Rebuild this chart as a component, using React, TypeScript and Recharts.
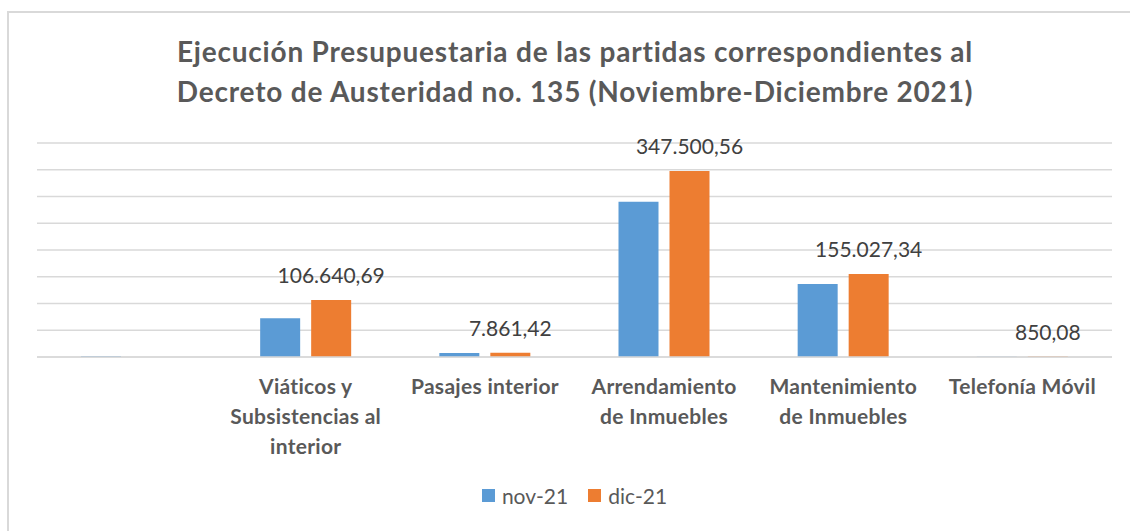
import { Bar, BarChart, CartesianGrid, LabelList, Legend, XAxis, YAxis } from "recharts";

const CATEGORIES = [
  "",
  "Viáticos y\nSubsistencias al\ninterior",
  "Pasajes interior",
  "Arrendamiento\nde Inmuebles",
  "Mantenimiento\nde Inmuebles",
  "Telefonía Móvil",
];
const NOV_21 = [1500, 72500, 7600, 290000, 136300, 700];
const DIC_21 = [null, 106640.69, 7861.42, 347500.56, 155027.34, 850.08];
const Y_TICKS = [0, 50000, 100000, 150000, 200000, 250000, 300000, 350000, 400000];

const DATA = CATEGORIES.map((c, i) => ({ c, nov: NOV_21[i], dic: DIC_21[i] }));

const BLUE = "#5b9bd5";
const ORANGE = "#ed7d31";
const GRID = "#d9d9d9";
const FONT = "Lato, 'Noto Sans', sans-serif";

// 106640.69 -> "106.640,69"
function fmt(v: number | null | undefined) {
  if (v == null) return "";
  const [int, dec] = v.toFixed(2).split(".");
  return int.replace(/\B(?=(\d{3})+(?!\d))/g, ".") + "," + dec;
}

function CategoryTick({ x, y, payload }: any) {
  const lines = String(payload.value).split("\n");
  return (
    <text
      x={x}
      y={y}
      textAnchor="middle"
      fill="#595959"
      fontSize={21}
      fontWeight={700}
      letterSpacing={0.3}
      fontFamily={FONT}
    >
      {lines.map((l, i) => (
        <tspan key={i} x={x} dy={i === 0 ? 29 : 30}>
          {l}
        </tspan>
      ))}
    </text>
  );
}

function LegendBox() {
  const items = [
    { name: "nov-21", color: BLUE },
    { name: "dic-21", color: ORANGE },
  ];
  return (
    <div style={{ display: "flex", justifyContent: "center", gap: 20, fontFamily: FONT }}>
      {items.map((it) => (
        <div key={it.name} style={{ display: "flex", alignItems: "center", gap: 7 }}>
          <span style={{ width: 13, height: 13, background: it.color, display: "inline-block" }} />
          <span style={{ fontSize: 21, color: "#595959" }}>{it.name}</span>
        </div>
      ))}
    </div>
  );
}

export default function App() {
  return (
    <div
      style={{
        position: "absolute",
        left: 0,
        top: 0,
        width: 1130,
        height: 531,
        background: "#fff",
        overflow: "hidden",
      }}
    >
      <div
        style={{
          position: "absolute",
          left: 7,
          top: 11,
          width: 1200,
          height: 600,
          borderLeft: `2px solid ${GRID}`,
          borderTop: `2px solid ${GRID}`,
        }}
      />
      <div
        style={{
          position: "absolute",
          left: 0,
          top: 31,
          width: 1150,
          textAlign: "center",
          fontFamily: FONT,
          fontWeight: 700,
          fontSize: 28,
          letterSpacing: 0.8,
          lineHeight: "40px",
          color: "#595959",
        }}
      >
        Ejecución Presupuestaria de las partidas correspondientes al
        <br />
        Decreto de Austeridad no. 135 (Noviembre-Diciembre 2021)
      </div>
      <div style={{ position: "absolute", left: 0, top: 0 }}>
        <BarChart
          width={1130}
          height={531}
          data={DATA}
          margin={{ top: 143, right: 18, left: 37, bottom: 8 }}
          barGap={11}
          barSize={40}
        >
          <CartesianGrid stroke={GRID} strokeWidth={1.5} vertical={false} />
          <XAxis
            dataKey="c"
            axisLine={{ stroke: GRID, strokeWidth: 1.5 }}
            tickLine={false}
            interval={0}
            height={126}
            tick={<CategoryTick />}
          />
          <YAxis hide domain={[0, 400000]} ticks={Y_TICKS} />
          <Legend
            verticalAlign="bottom"
            height={40}
            content={<LegendBox />}
            wrapperStyle={{ height: 40 }}
          />
          <Bar dataKey="nov" name="nov-21" fill={BLUE} isAnimationActive={false} />
          <Bar dataKey="dic" name="dic-21" fill={ORANGE} isAnimationActive={false}>
            <LabelList
              dataKey="dic"
              position="top"
              offset={17}
              formatter={(v: any) => fmt(v)}
              fill="#404040"
              fontSize={21}
              fontFamily={FONT}
            />
          </Bar>
        </BarChart>
      </div>
    </div>
  );
}
